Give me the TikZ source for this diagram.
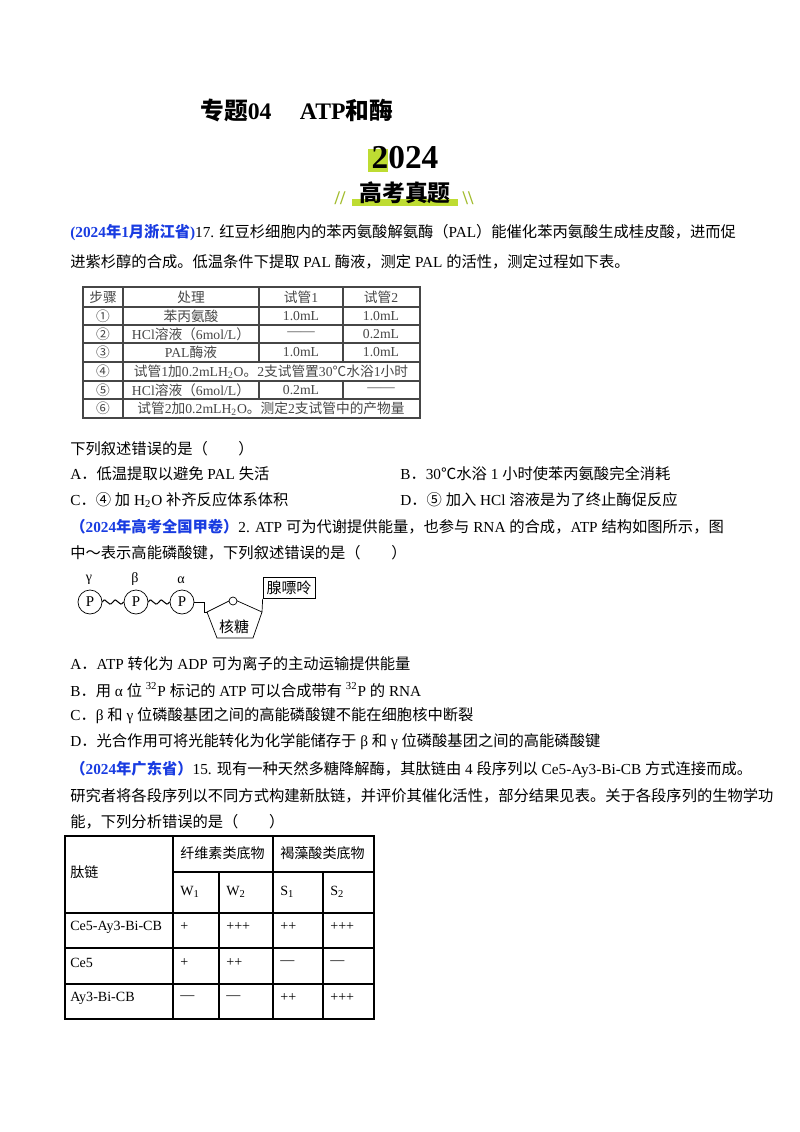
\documentclass[tikz,border=0pt]{standalone}
\usepackage{fontspec}
\setmainfont{Liberation Serif}
\newfontfamily\cjk{Noto Sans CJK SC}
\XeTeXinterchartokenstate=1
\newXeTeXintercharclass\CJKcls
\newcount\cc
\def\setcls#1#2{\cc=#1 \loop\ifnum\cc<#2 \XeTeXcharclass\cc=\CJKcls \advance\cc1 \repeat}
\setcls{"2460}{"2474}
\setcls{"3000}{"3040}
\setcls{"4E00}{"A000}
\setcls{"FF00}{"FF61}
\XeTeXcharclass"2103=\CJKcls
\XeTeXinterchartoks 0 \CJKcls={\cjk}
\XeTeXinterchartoks 4095 \CJKcls={\cjk}
\XeTeXinterchartoks \CJKcls 0={\rmfamily}
\XeTeXinterchartoks \CJKcls 4095={\rmfamily}
\definecolor{qblue}{RGB}{25,60,225}
\definecolor{lgreen}{RGB}{190,220,50}
\definecolor{tgray}{RGB}{70,70,70}
\newdimen\unitpx \unitpx=0.02cm
\tikzset{
  line/.style={anchor=west,inner sep=0pt,font=\fontsize{8.7}{10}\selectfont},
  tab/.style={inner sep=0pt,font=\fontsize{7.8}{9}\selectfont,text=tgray},
  tabb/.style={inner sep=0pt,font=\fontsize{8}{9}\selectfont},
  pc/.style={draw,circle,minimum size=24\unitpx,inner sep=0pt,font=\fontsize{8.5}{9}\selectfont},
  lbl/.style={inner sep=0pt,font=\fontsize{8}{9}\selectfont},
}
\newcommand\qtag[1]{{\bfseries\color{qblue}#1}}
\begin{document}
\begin{tikzpicture}[x=0.02cm,y=-0.02cm]
\useasboundingbox (0,0) rectangle (800,1132);
% header
\node[anchor=west,inner sep=0pt,font=\fontsize{13.5}{15}\selectfont\bfseries] (title) at (200,110) {专题04\hspace{1.2em}ATP和酶};
\fill[lgreen] (368,149) rectangle (388,172);
\node[inner sep=0pt,font=\fontsize{19}{20}\selectfont\bfseries] (year) at (405,158) {2024};
\fill[lgreen] (352,199) rectangle (458,206);
\node[inner sep=0pt,font=\fontsize{13}{14}\selectfont\bfseries] (gk) at (405,193) {高考真题};
\node[inner sep=0pt,font=\fontsize{11}{12}\selectfont\bfseries,text=lgreen!85!black] (sl) at (340,198) {//};
\node[inner sep=0pt,font=\fontsize{11}{12}\selectfont\bfseries,text=lgreen!85!black] (sr) at (468,198) {\textbackslash\textbackslash};
% Q1
\node[line] (q1a) at (70,233) {\qtag{(2024年1月浙江省)}17. 红豆杉细胞内的苯丙氨酸解氨酶（PAL）能催化苯丙氨酸生成桂皮酸，进而促};
\node[line] (q1b) at (70,262) {进紫杉醇的合成。低温条件下提取 PAL 酶液，测定 PAL 的活性，测定过程如下表。};
% table 1
\begin{scope}[draw=tgray,line width=0.6pt]
\draw (83,287) rectangle (420,418);
\foreach \y in {307,325,343,362,381,399} \draw (83,\y) -- (420,\y);
\draw (123,287) -- (123,418);
\draw (259,287) -- (259,362) (259,381) -- (259,399);
\draw (343,287) -- (343,362) (343,381) -- (343,399);
\end{scope}
\node[tab] (h1) at (103,297) {步骤};
\node[tab] (h2) at (191,297) {处理};
\node[tab] (h3) at (301,297) {试管1};
\node[tab] (h4) at (381,297) {试管2};
\node[tab] (a1) at (103,316) {①};
\node[tab] (b1) at (191,316) {苯丙氨酸};
\node[tab] (c1) at (301,316) {1.0mL};
\node[tab] (d1) at (381,316) {1.0mL};
\node[tab] (a2) at (103,334) {②};
\node[tab] (b2) at (191,334) {HCl溶液（6mol/L）};
\node[tab] (c2) at (301,334) {——};
\node[tab] (d2) at (381,334) {0.2mL};
\node[tab] (a3) at (103,352.5) {③};
\node[tab] (b3) at (191,352.5) {PAL酶液};
\node[tab] (c3) at (301,352.5) {1.0mL};
\node[tab] (d3) at (381,352.5) {1.0mL};
\node[tab] (a4) at (103,371.5) {④};
\node[tab] (b4) at (271,371.5) {试管1加0.2mLH\textsubscript{2}O。2支试管置30℃水浴1小时};
\node[tab] (a5) at (103,390) {⑤};
\node[tab] (b5) at (191,390) {HCl溶液（6mol/L）};
\node[tab] (c5) at (301,390) {0.2mL};
\node[tab] (d5) at (381,390) {——};
\node[tab] (a6) at (103,408.5) {⑥};
\node[tab] (b6) at (271,408.5) {试管2加0.2mLH\textsubscript{2}O。测定2支试管中的产物量};
\node[line] (q1c) at (70,449) {下列叙述错误的是（\hspace{2em}）};
\node[line] (q1A) at (70,474) {A．低温提取以避免 PAL 失活};
\node[line] (q1B) at (400,474) {B．30℃水浴 1 小时使苯丙氨酸完全消耗};
\node[line] (q1C) at (70,500) {C．④ 加 H\textsubscript{2}O 补齐反应体系体积};
\node[line] (q1D) at (400,500) {D．⑤ 加入 HCl 溶液是为了终止酶促反应};
% Q2
\node[line] (q2a) at (70,527) {\qtag{（2024年高考全国甲卷）}2. ATP 可为代谢提供能量，也参与 RNA 的合成，ATP 结构如图所示，图};
\node[line] (q2b) at (70,553) {中～表示高能磷酸键，下列叙述错误的是（\hspace{2em}）};
% ATP diagram
\node[pc] (p1) at (90,602) {P};
\node[pc] (p2) at (136,602) {P};
\node[pc] (p3) at (182,602) {P};
\node[lbl] (g) at (89,580) {γ};
\node[lbl] (b) at (135,579) {β};
\node[lbl] (al) at (181,580) {α};
\draw[line width=0.6pt] (p1.east) .. controls (106,595) and (108,609) .. (113,602) .. controls (117,595) and (119,609) .. (p2.west);
\draw[line width=0.6pt] (p2.east) .. controls (152,595) and (154,609) .. (159,602) .. controls (163,595) and (165,609) .. (p3.west);
\coordinate (pl) at (207,612);
\coordinate (ptop) at (233,599);
\coordinate (pr) at (262,612);
\coordinate (pbr) at (253,638);
\coordinate (pbl) at (217,638);
\draw (pl) -- (ptop) -- (pr) -- (pbr) -- (pbl) -- cycle;
\draw[fill=white] (233,601) circle (4);
\draw (p3.east) -- (204,602) -- (204,612) -- (pl);
\node[draw,inner sep=0pt,minimum width=52\unitpx,minimum height=21\unitpx,font=\fontsize{8.5}{9}\selectfont] (ade) at (289,588) {腺嘌呤};
\draw (pr) -- (ade.south west);
\node[inner sep=0pt,font=\fontsize{8.5}{9}\selectfont] (rib) at (234,627) {核糖};
\node[line] (q2A) at (70,664) {A．ATP 转化为 ADP 可为离子的主动运输提供能量};
\node[line] (q2B) at (70,690) {B．用 α 位 \textsuperscript{32}P 标记的 ATP 可以合成带有 \textsuperscript{32}P 的 RNA};
\node[line] (q2C) at (70,716) {C．β 和 γ 位磷酸基团之间的高能磷酸键不能在细胞核中断裂};
\node[line] (q2D) at (70,742) {D．光合作用可将光能转化为化学能储存于 β 和 γ 位磷酸基团之间的高能磷酸键};
% Q3
\node[line] (q3a) at (70,770) {\qtag{（2024年广东省）}15. 现有一种天然多糖降解酶，其肽链由 4 段序列以 Ce5-Ay3-Bi-CB 方式连接而成。};
\node[line] (q3b) at (70,796) {研究者将各段序列以不同方式构建新肽链，并评价其催化活性，部分结果见表。关于各段序列的生物学功};
\node[line] (q3c) at (70,822) {能，下列分析错误的是（\hspace{2em}）};
% table 2
\begin{scope}[line width=0.6pt]
\draw (65,836) rectangle (374,1019);
\draw (173,836) -- (173,1019);
\draw (273,836) -- (273,1019);
\draw (219,872) -- (219,1019);
\draw (323,872) -- (323,1019);
\draw (173,872) -- (374,872);
\foreach \y in {913,948,984} \draw (65,\y) -- (374,\y);
\end{scope}
\node[tabb,anchor=west] (t0) at (70,872) {肽链};
\node[tabb,anchor=west] (t1) at (180,853) {纤维素类底物};
\node[tabb,anchor=west] (t2) at (280,853) {褐藻酸类底物};
\node[tabb,anchor=west] (w1) at (180,892) {W\textsubscript{1}};
\node[tabb,anchor=west] (w2) at (226,892) {W\textsubscript{2}};
\node[tabb,anchor=west] (s1) at (280,892) {S\textsubscript{1}};
\node[tabb,anchor=west] (s2) at (330,892) {S\textsubscript{2}};
\node[tabb,anchor=west] (e1) at (70,927) {Ce5-Ay3-Bi-CB};
\node[tabb,anchor=west] (e2) at (180,927) {+};
\node[tabb,anchor=west] (e3) at (226,927) {+++};
\node[tabb,anchor=west] (e4) at (280,927) {++};
\node[tabb,anchor=west] (e5) at (330,927) {+++};
\node[tabb,anchor=west] (f1) at (70,963) {Ce5};
\node[tabb,anchor=west] (f2) at (180,963) {+};
\node[tabb,anchor=west] (f3) at (226,963) {++};
\node[tabb,anchor=west] (f4) at (280,963) {—};
\node[tabb,anchor=west] (f5) at (330,963) {—};
\node[tabb,anchor=west] (g1) at (70,998) {Ay3-Bi-CB};
\node[tabb,anchor=west] (g2) at (180,998) {—};
\node[tabb,anchor=west] (g3) at (226,998) {—};
\node[tabb,anchor=west] (g4) at (280,998) {++};
\node[tabb,anchor=west] (g5) at (330,998) {+++};
\end{tikzpicture}
\end{document}
